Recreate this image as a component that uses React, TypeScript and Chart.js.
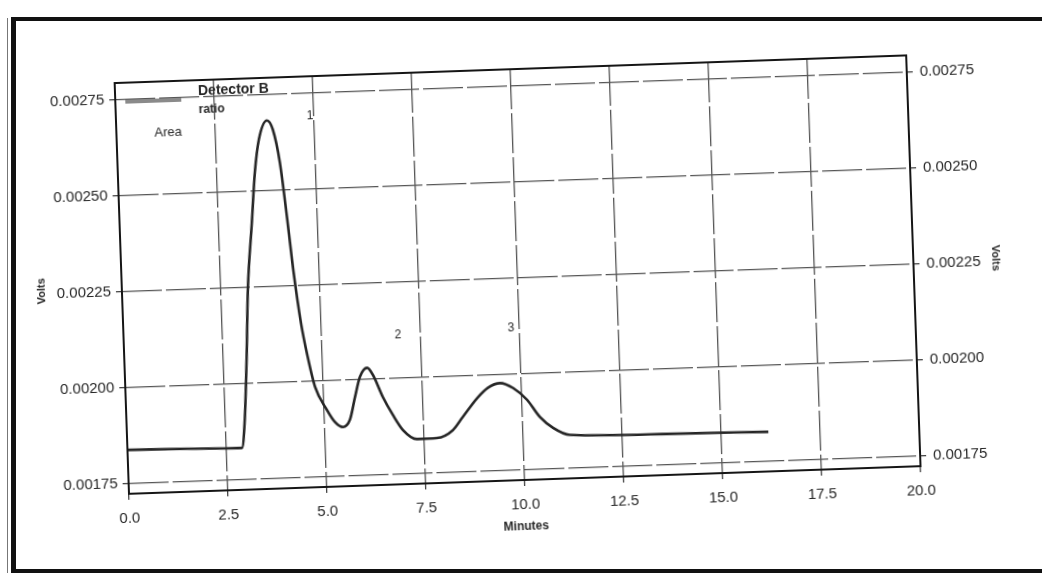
import React, { useEffect, useRef } from "react";
import { Chart, registerables } from "chart.js";

Chart.register(...registerables);

// Detector trace: retention time (minutes) and signal (volts)
const minutes = [
  0, 1.5, 2.8, 2.89, 2.98, 3.09, 3.18, 3.34, 3.46, 3.59, 3.81, 3.95, 4.1, 4.23,
  4.35, 4.49, 4.63, 4.79, 5.07, 5.26, 5.46, 5.64, 5.79, 5.93, 6.12, 6.26, 6.49,
  6.73, 6.97, 7.32, 7.82, 8.23, 8.49, 8.87, 9.15, 9.46, 9.79, 10.13, 10.44,
  10.76, 11.18, 13.5, 16.19,
];
const volts = [
  0.001838, 0.001836, 0.001833, 0.001833, 0.001897, 0.002069, 0.002244,
  0.002418, 0.002548, 0.002633, 0.002682, 0.002658, 0.002571, 0.00243,
  0.002284, 0.002153, 0.002064, 0.001985, 0.001924, 0.001892, 0.001878,
  0.001896, 0.001955, 0.002007, 0.00203, 0.002011, 0.001953, 0.001905,
  0.001865, 0.00184, 0.001841, 0.00186, 0.001893, 0.001941, 0.001967,
  0.001978, 0.001964, 0.001932, 0.001886, 0.001857, 0.001837, 0.001831,
  0.001827,
];

// Axis ticks
const xTickValues = [0, 2.5, 5, 7.5, 10, 12.5, 15, 17.5, 20];
const yTickValues = [0.00175, 0.002, 0.00225, 0.0025, 0.00275];
const yMin = 0.001724;
const yMax = 0.002793;

// Peak numbers written above the trace
const peakNames = ["1", "2", "3"];
const peakMinutes = [4.9, 6.93, 9.79];
const peakVolts = [0.002689, 0.002113, 0.002121];

const TEXT = "#262626";
const FONT = '"Liberation Sans", Arial, sans-serif';

const decorations = {
  id: "decorations",
  afterDraw(chart: any) {
    const { ctx, chartArea: a, scales } = chart;
    ctx.save();

    // peak numbers
    ctx.fillStyle = TEXT;
    ctx.font = `12px ${FONT}`;
    ctx.textAlign = "center";
    ctx.textBaseline = "middle";
    peakNames.forEach((name, i) => {
      ctx.fillText(
        name,
        scales.x.getPixelForValue(peakMinutes[i]),
        scales.y.getPixelForValue(peakVolts[i])
      );
    });

    // legend block in the upper-left corner
    ctx.strokeStyle = "#8a8a8a";
    ctx.lineWidth = 4;
    ctx.beginPath();
    ctx.moveTo(a.left + 10, a.top + 19);
    ctx.lineTo(a.left + 66, a.top + 19);
    ctx.stroke();

    ctx.textAlign = "left";
    ctx.font = `bold 14px ${FONT}`;
    ctx.fillText("Detector B", a.left + 83, a.top + 11);
    ctx.font = `bold 12px ${FONT}`;
    ctx.fillText("ratio", a.left + 83, a.top + 30);
    ctx.font = `13px ${FONT}`;
    ctx.fillText("Area", a.left + 38, a.top + 51);

    // plot frame
    ctx.strokeStyle = "#151515";
    ctx.lineWidth = 2;
    ctx.strokeRect(a.left, a.top, a.right - a.left, a.bottom - a.top);
    ctx.restore();
  },
};

export default function App() {
  const canvasRef = useRef<HTMLCanvasElement | null>(null);

  useEffect(() => {
    const canvas = canvasRef.current;
    if (!canvas) return;

    const tickFont = { family: FONT, size: 15 };
    const fixTicks = (values: number[]) => (axis: any) => {
      axis.ticks = values.map((value) => ({ value }));
    };

    const chart = new Chart(canvas, {
      type: "line",
      data: {
        datasets: [
          {
            label: "Detector B ratio",
            data: minutes.map((m, i) => ({ x: m, y: volts[i] })),
            borderColor: "#262626",
            borderWidth: 2.6,
            pointRadius: 0,
            cubicInterpolationMode: "monotone",
            fill: false,
            yAxisID: "y",
          },
        ],
      },
      options: {
        animation: false,
        responsive: false,
        maintainAspectRatio: false,
        devicePixelRatio: 1,
        layout: { padding: { top: 69, left: 0, right: 0, bottom: 0 } },
        plugins: {
          legend: { display: false },
          tooltip: { enabled: false },
        },
        scales: {
          x: {
            type: "linear",
            min: 0,
            max: 20,
            afterBuildTicks: fixTicks(xTickValues),
            afterFit: (axis: any) => {
              axis.height = 93;
            },
            ticks: {
              callback: (v: any) => Number(v).toFixed(1),
              font: tickFont,
              color: TEXT,
              padding: 10,
              maxRotation: 0,
              autoSkip: false,
            },
            grid: {
              color: "#555",
              lineWidth: 1.3,
              tickLength: 6,
              tickColor: "#444",
            },
            border: { display: false, dash: [40, 4] },
            title: {
              display: true,
              text: "Minutes",
              color: TEXT,
              font: { family: FONT, size: 12, weight: "bold" },
              padding: { top: 0, bottom: 39 },
            },
          },
          y: {
            type: "linear",
            position: "left",
            min: yMin,
            max: yMax,
            afterBuildTicks: fixTicks(yTickValues),
            afterFit: (axis: any) => {
              axis.width = 122;
            },
            ticks: {
              callback: (v: any) => Number(v).toFixed(5),
              font: tickFont,
              color: TEXT,
              padding: 5,
            },
            grid: {
              color: "#555",
              lineWidth: 1.3,
              tickLength: 6,
              tickColor: "#444",
            },
            border: { display: false, dash: [40, 4] },
            title: {
              display: true,
              text: "Volts",
              color: TEXT,
              font: { family: FONT, size: 11, weight: "bold" },
              padding: { top: 35, bottom: 0 },
            },
          },
          y2: {
            type: "linear",
            position: "right",
            min: yMin,
            max: yMax,
            afterBuildTicks: fixTicks(yTickValues),
            afterFit: (axis: any) => {
              axis.width = 128;
            },
            ticks: {
              callback: (v: any) => Number(v).toFixed(5),
              font: tickFont,
              color: TEXT,
              padding: 7,
            },
            grid: {
              drawOnChartArea: false,
              tickLength: 6,
              tickColor: "#444",
              lineWidth: 1.3,
            },
            border: { display: false },
            title: {
              display: true,
              text: "Volts",
              color: TEXT,
              font: { family: FONT, size: 11, weight: "bold" },
              padding: { top: 39, bottom: 0 },
            },
          },
        },
      } as any,
      plugins: [decorations],
    });

    return () => chart.destroy();
  }, []);

  return (
    <div
      style={{
        position: "fixed",
        left: 0,
        top: 0,
        width: 1042,
        height: 573,
        overflow: "hidden",
        background: "#ffffff",
      }}
    >
      <div
        style={{
          position: "absolute",
          left: 0,
          top: 0,
          width: 1042,
          height: 573,
          transform: "rotate(-2deg)",
          transformOrigin: "521px 286.5px",
        }}
      >
        <canvas ref={canvasRef} width={1042} height={573} />
      </div>
      {/* page frame */}
      <div
        style={{
          position: "absolute",
          left: 7,
          top: 18,
          width: 1,
          height: 555,
          background: "#777",
        }}
      />
      <div
        style={{
          position: "absolute",
          left: 11,
          top: 17,
          width: 1100,
          height: 548,
          borderLeft: "5px solid #111",
          borderTop: "4px solid #111",
          borderBottom: "6px solid #111",
        }}
      />
    </div>
  );
}
